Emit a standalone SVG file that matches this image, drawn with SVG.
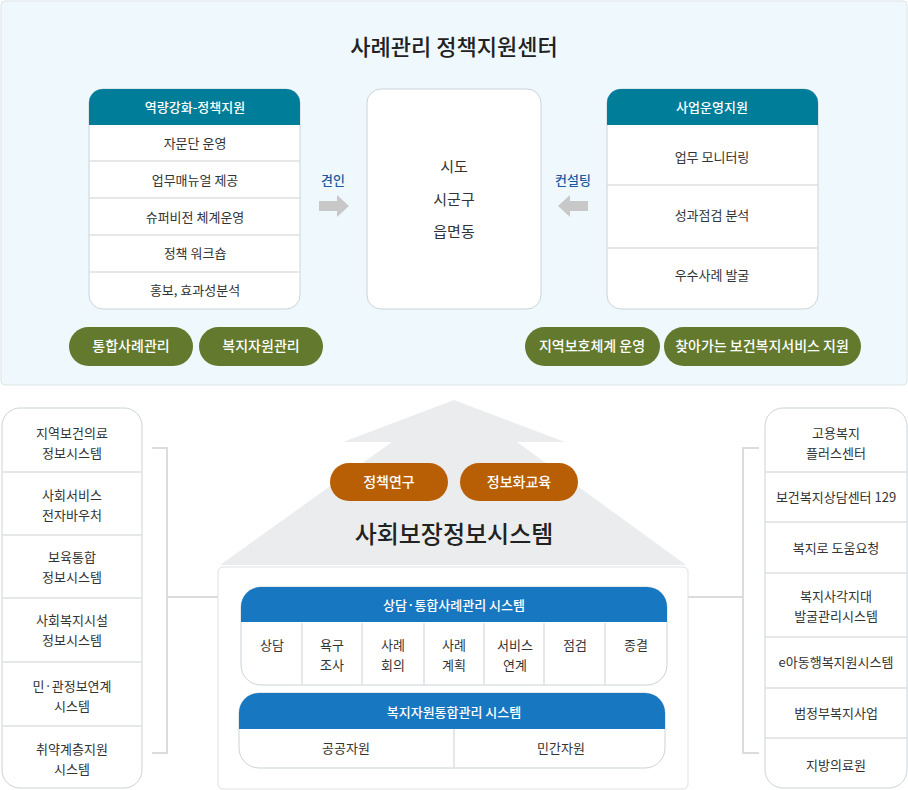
<svg xmlns="http://www.w3.org/2000/svg" width="908" height="790" viewBox="0 0 908 790">
<style>
text{font-family:"Noto Sans CJK KR","Noto Sans",sans-serif;text-anchor:middle;fill:#333;font-size:13px}
text.w{fill:#fff;font-weight:500}
text.p{fill:#fff;font-size:14px;font-weight:500}
text.b{fill:#1a5aa0;font-weight:500}
text.m{font-size:15px}
text.t1{font-size:22px;fill:#222;font-weight:500}
text.t2{font-size:24px;fill:#222;font-weight:500}
.box{fill:#fff;stroke:#ccd3d8;stroke-width:1}
.div{stroke:#dcdfe2;stroke-width:1.5}
.br{fill:none;stroke:#dcdcdc;stroke-width:2}
.g{fill:#637a2e}
.o{fill:#b85f05}
</style>
<rect x="1" y="1" width="906" height="384" rx="4" fill="#eff9fd" stroke="#dde3e6"/>
<text class="t1" x="454" y="55">사례관리 정책지원센터</text>
<g id="left-policy">
<rect class="box" x="89" y="89" width="211" height="220" rx="14"/>
<path d="M89 125V103a14 14 0 0 1 14-14h183a14 14 0 0 1 14 14v22z" fill="#007d99"/>
<text class="w" x="195" y="112">역량강화-정책지원</text>
<g class="div"><line x1="89" y1="161" x2="300" y2="161"/><line x1="89" y1="198" x2="300" y2="198"/><line x1="89" y1="235" x2="300" y2="235"/><line x1="89" y1="272" x2="300" y2="272"/></g>
<text x="195" y="148">자문단 운영</text><text x="195" y="185">업무매뉴얼 제공</text><text x="195" y="222">슈퍼비전 체계운영</text><text x="195" y="258">정책 워크숍</text><text x="195" y="295">홍보, 효과성분석</text>
</g>
<g id="center">
<rect class="box" x="367" y="89" width="174" height="220" rx="14"/>
<text class="m" x="454" y="172">시도</text><text class="m" x="454" y="205">시군구</text><text class="m" x="454" y="237">읍면동</text>
</g>
<g id="right-ops">
<rect class="box" x="607" y="89" width="211" height="220" rx="14"/>
<path d="M607 125V103a14 14 0 0 1 14-14h183a14 14 0 0 1 14 14v22z" fill="#007d99"/>
<text class="w" x="712" y="112">사업운영지원</text>
<g class="div"><line x1="607" y1="185" x2="818" y2="185"/><line x1="607" y1="248" x2="818" y2="248"/></g>
<text x="712" y="162">업무 모니터링</text><text x="712" y="220">성과점검 분석</text><text x="712" y="280">우수사례 발굴</text>
</g>
<g id="connectors">
<text class="b" x="333" y="185">견인</text>
<path d="M319 201h18v-6l12 11-12 11v-6h-18z" fill="#c8c8c8"/>
<text class="b" x="573" y="185">컨설팅</text>
<path d="M588 201h-18v-6l-12 11 12 11v-6h18z" fill="#c8c8c8"/>
<path class="br" d="M152 448h15v305h-15M167 597h51"/>
<path class="br" d="M759 448h-16v305h16M743 597h-55"/>
</g>
<g id="pills">
<rect class="g" x="69" y="327" width="124" height="39" rx="19.5"/><text class="p" x="131" y="351">통합사례관리</text>
<rect class="g" x="199" y="327" width="124" height="39" rx="19.5"/><text class="p" x="261" y="351">복지자원관리</text>
<rect class="g" x="525" y="327" width="135" height="39" rx="19.5"/><text class="p" x="592" y="351">지역보호체계 운영</text>
<rect class="g" x="664" y="327" width="197" height="39" rx="19.5"/><text class="p" x="762" y="351">찾아가는 보건복지서비스 지원</text>
</g>
<polygon points="454,400 343,442 392,442 220,565 686,565 517,442 565,442" fill="#ebeced"/>
<g id="edu">
<rect class="o" x="330" y="463" width="118" height="38" rx="19"/><text class="p" x="389" y="487">정책연구</text>
<rect class="o" x="460" y="463" width="118" height="38" rx="19"/><text class="p" x="519" y="487">정보화교육</text>
</g>
<text class="t2" x="454" y="543">사회보장정보시스템</text>
<rect x="218" y="567" width="470" height="222" rx="5" fill="#fff" stroke="#dde1e4"/>
<g id="case-system">
<rect class="box" x="241" y="587" width="426" height="98" rx="20"/>
<path d="M241 622v-15a20 20 0 0 1 20-20h386a20 20 0 0 1 20 20v15z" fill="#1778c1"/>
<text class="w" x="454" y="610">상담·통합사례관리 시스템</text>
<g class="div"><line x1="302" y1="623" x2="302" y2="685"/><line x1="362" y1="623" x2="362" y2="685"/><line x1="424" y1="623" x2="424" y2="685"/><line x1="484" y1="623" x2="484" y2="685"/><line x1="544" y1="623" x2="544" y2="685"/><line x1="605" y1="623" x2="605" y2="685"/></g>
<text x="272" y="650">상담</text>
<text x="332" y="650">욕구</text><text x="332" y="670">조사</text>
<text x="393" y="650">사례</text><text x="393" y="670">회의</text>
<text x="454" y="650">사례</text><text x="454" y="670">계획</text>
<text x="515" y="650">서비스</text><text x="515" y="670">연계</text>
<text x="575" y="650">점검</text>
<text x="636" y="650">종결</text>
</g>
<g id="resource-system">
<rect class="box" x="239" y="693" width="426" height="75" rx="20"/>
<path d="M239 729v-16a20 20 0 0 1 20-20h386a20 20 0 0 1 20 20v16z" fill="#1778c1"/>
<text class="w" x="454" y="717">복지자원통합관리 시스템</text>
<line class="div" x1="454" y1="729" x2="454" y2="768"/>
<text x="346" y="753">공공자원</text><text x="561" y="753">민간자원</text>
</g>
<g id="left-list">
<rect class="box" x="2" y="408" width="140" height="380" rx="18"/>
<g class="div"><line x1="2" y1="472" x2="142" y2="472"/><line x1="2" y1="535" x2="142" y2="535"/><line x1="2" y1="598" x2="142" y2="598"/><line x1="2" y1="662" x2="142" y2="662"/><line x1="2" y1="726" x2="142" y2="726"/></g>
<text x="72" y="438">지역보건의료</text><text x="72" y="458">정보시스템</text>
<text x="72" y="500">사회서비스</text><text x="72" y="520">전자바우처</text>
<text x="72" y="562">보육통합</text><text x="72" y="582">정보시스템</text>
<text x="72" y="625">사회복지시설</text><text x="72" y="645">정보시스템</text>
<text x="72" y="691">민·관정보연계</text><text x="72" y="711">시스템</text>
<text x="72" y="754">취약계층지원</text><text x="72" y="774">시스템</text>
</g>
<g id="right-list">
<rect class="box" x="765" y="408" width="142" height="380" rx="18"/>
<g class="div"><line x1="765" y1="472" x2="907" y2="472"/><line x1="765" y1="522" x2="907" y2="522"/><line x1="765" y1="573" x2="907" y2="573"/><line x1="765" y1="637" x2="907" y2="637"/><line x1="765" y1="688" x2="907" y2="688"/><line x1="765" y1="738" x2="907" y2="738"/></g>
<text x="836" y="438">고용복지</text><text x="836" y="458">플러스센터</text>
<text x="836" y="502">보건복지상담센터 129</text>
<text x="836" y="553">복지로 도움요청</text>
<text x="836" y="601">복지사각지대</text><text x="836" y="621">발굴관리시스템</text>
<text x="836" y="667">e아동행복지원시스템</text>
<text x="836" y="718">범정부복지사업</text>
<text x="836" y="770">지방의료원</text>
</g>
</svg>
